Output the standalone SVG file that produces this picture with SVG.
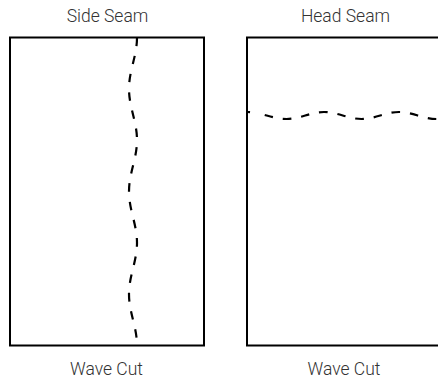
<svg xmlns="http://www.w3.org/2000/svg" width="438" height="382" viewBox="0 0 438 382">
<style>
.box{fill:#fff;stroke:#000;stroke-width:2}
.seam{fill:none;stroke:#000;stroke-width:2.2;stroke-dasharray:8.5 10}
.lbl{font-family:Roboto,"Liberation Sans",sans-serif;font-weight:300;font-size:17.5px;fill:#333;text-anchor:middle}
</style>
<rect width="438" height="382" fill="#fff"/>
<g id="side-seam">
<text class="lbl" x="107.5" y="22">Side Seam</text>
<rect class="box" x="10" y="37.5" width="194" height="308"/>
<path class="seam" d="M137,37.5 C137,56.2 129,70.13 129,88.83 C129,107.53 137,121.47 137,140.17 C137,158.87 129,172.8 129,191.5 C129,210.2 137,224.13 137,242.83 C137,261.53 129,275.47 129,294.17 C129,312.87 137,326.8 137,345.5"/>
<text class="lbl" x="106.5" y="375">Wave Cut</text>
</g>
<g id="head-seam">
<text class="lbl" x="345.5" y="22">Head Seam</text>
<rect class="box" x="247" y="37.5" width="194" height="308"/>
<path class="seam" style="stroke-dasharray:3 15 8.5 10 8.5 10 8.5 10 8.5 10 8.5 10 8.5 10 8.5 10 8.5 10 8.5 10 8.5 10 8.5 10 8.5 10" d="M247,112 C261,112 272.5,119 286.5,119 C300.2,119 310.3,112 324,112 C337.7,112 347.8,119 361.5,119 C375.2,119 385.3,112 399,112 C412.7,112 422.8,119 436.5,119 C450.2,119 460,112 474,112"/>
<text class="lbl" x="344" y="375">Wave Cut</text>
</g>
</svg>
